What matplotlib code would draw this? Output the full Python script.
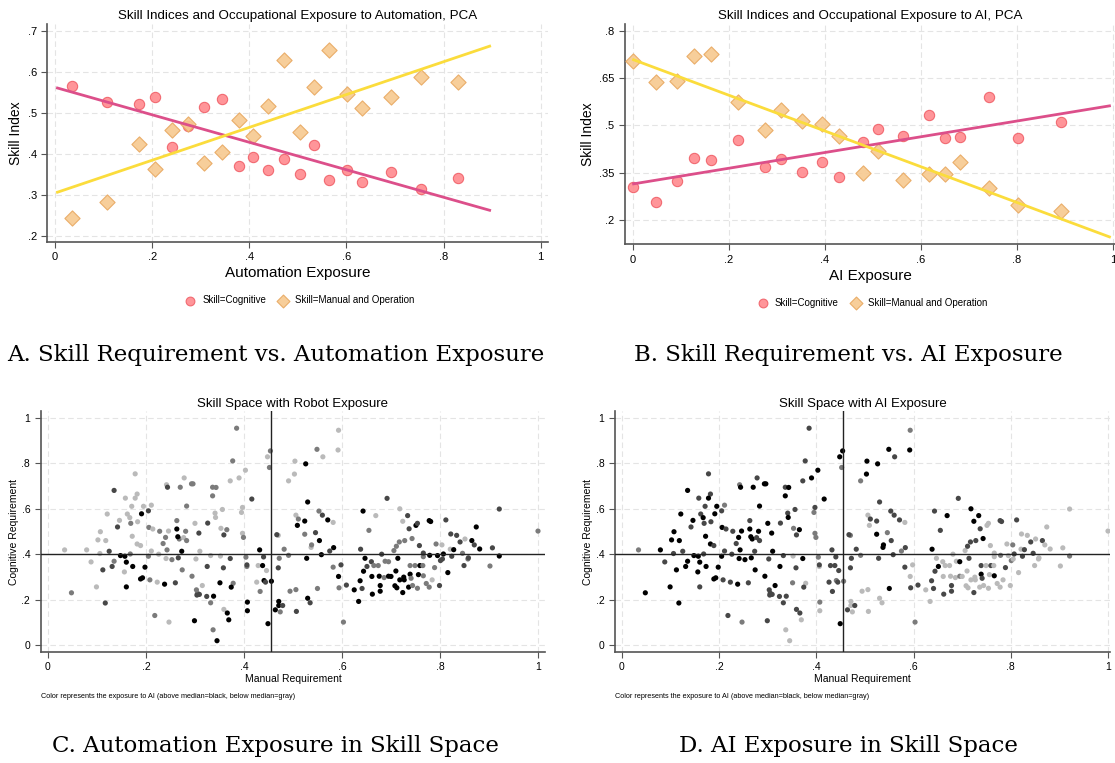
import numpy as np
import matplotlib
matplotlib.use('Agg')
import matplotlib.pyplot as plt

# ---- panel A: skill index vs automation exposure ----
auto_x = [0.035, 0.108, 0.173, 0.206, 0.241, 0.273, 0.307, 0.343, 0.379, 0.407,
          0.438, 0.471, 0.505, 0.534, 0.565, 0.602, 0.633, 0.691, 0.753, 0.829]
auto_cog = [0.565, 0.526, 0.520, 0.537, 0.416, 0.467, 0.514, 0.534, 0.369, 0.391,
            0.361, 0.388, 0.351, 0.422, 0.335, 0.360, 0.330, 0.355, 0.314, 0.340]
auto_man = [0.242, 0.281, 0.424, 0.362, 0.457, 0.473, 0.377, 0.405, 0.481, 0.442,
            0.516, 0.628, 0.454, 0.563, 0.653, 0.545, 0.512, 0.539, 0.586, 0.574]
auto_fit_x = [0.005, 0.895]
auto_fit_cog = [0.560, 0.262]
auto_fit_man = [0.306, 0.662]

# ---- panel B: skill index vs AI exposure ----
ai_x = [0.0, 0.048, 0.093, 0.127, 0.164, 0.220, 0.275, 0.308, 0.352, 0.395,
        0.430, 0.480, 0.512, 0.563, 0.618, 0.650, 0.681, 0.743, 0.803, 0.892]
ai_cog = [0.304, 0.258, 0.324, 0.396, 0.391, 0.455, 0.367, 0.393, 0.354, 0.385,
          0.336, 0.447, 0.488, 0.468, 0.532, 0.459, 0.464, 0.590, 0.459, 0.510]
ai_man = [0.703, 0.637, 0.640, 0.719, 0.727, 0.574, 0.485, 0.548, 0.513, 0.506,
          0.467, 0.349, 0.418, 0.326, 0.346, 0.347, 0.383, 0.301, 0.249, 0.230]
ai_fit_x = [0.002, 0.993]
ai_fit_cog = [0.315, 0.562]
ai_fit_man = [0.708, 0.147]

# ---- panels C/D: occupations in skill space ----
manual_req = [
    0.385, 0.593, 0.592, 0.454, 0.549, 0.448, 0.561, 0.377, 0.452, 0.504,
    0.526, 0.403, 0.178, 0.503, 0.278, 0.390, 0.372, 0.491, 0.293, 0.296,
    0.242, 0.244, 0.270, 0.336, 0.343, 0.135, 0.182, 0.336, 0.416, 0.158,
    0.178, 0.283, 0.211, 0.195, 0.171, 0.356, 0.397, 0.121, 0.191, 0.162,
    0.205, 0.341, 0.395, 0.167, 0.342, 0.146, 0.183, 0.263, 0.169, 0.300,
    0.326, 0.142, 0.206, 0.214, 0.353, 0.365, 0.228, 0.246, 0.281, 0.107,
    0.263, 0.308, 0.359, 0.172, 0.240, 0.397, 0.399, 0.102, 0.118, 0.235,
    0.182, 0.189, 0.268, 0.277, 0.283, 0.265, 0.034, 0.079, 0.273, 0.211,
    0.243, 0.106, 0.125, 0.148, 0.157, 0.168, 0.160, 0.135, 0.205, 0.226,
    0.241, 0.253, 0.266, 0.310, 0.332, 0.352, 0.372, 0.404, 0.432, 0.440,
    0.302, 0.088, 0.112, 0.131, 0.156, 0.173, 0.198, 0.325, 0.358, 0.406,
    0.406, 0.429, 0.438, 0.446, 0.470, 0.467, 0.470, 0.274, 0.294, 0.189,
    0.193, 0.208, 0.223, 0.238, 0.260, 0.351, 0.378, 0.426, 0.441, 0.444,
    0.456, 0.099, 0.048, 0.160, 0.315, 0.303, 0.305, 0.309, 0.304, 0.374,
    0.433, 0.324, 0.338, 0.117, 0.332, 0.407, 0.218, 0.247, 0.359, 0.366,
    0.369, 0.407, 0.299, 0.337, 0.345, 0.449, 0.464, 0.471, 0.471, 0.479,
    0.474, 0.472, 0.482, 0.491, 0.494, 0.506, 0.507, 0.506, 0.511, 0.509,
    0.524, 0.530, 0.528, 0.524, 0.530, 0.535, 0.537, 0.538, 0.546, 0.550,
    0.553, 0.554, 0.558, 0.560, 0.571, 0.575, 0.582, 0.583, 0.582, 0.593,
    0.594, 0.598, 0.603, 0.609, 0.625, 0.634, 0.637, 0.638, 0.641, 0.643,
    0.644, 0.647, 0.651, 0.655, 0.660, 0.661, 0.662, 0.665, 0.669, 0.674,
    0.676, 0.678, 0.678, 0.681, 0.686, 0.688, 0.692, 0.695, 0.695, 0.700,
    0.706, 0.708, 0.710, 0.711, 0.712, 0.714, 0.717, 0.718, 0.718, 0.724,
    0.724, 0.726, 0.727, 0.728, 0.734, 0.736, 0.737, 0.739, 0.739, 0.741,
    0.743, 0.744, 0.749, 0.751, 0.754, 0.754, 0.756, 0.758, 0.759, 0.765,
    0.766, 0.766, 0.766, 0.772, 0.778, 0.778, 0.781, 0.779, 0.784, 0.789,
    0.792, 0.795, 0.799, 0.801, 0.804, 0.805, 0.807, 0.812, 0.816, 0.821,
    0.822, 0.824, 0.828, 0.834, 0.841, 0.846, 0.849, 0.851, 0.857, 0.858,
    0.865, 0.870, 0.874, 0.881, 0.902, 0.907, 0.921, 0.921, 1.000]
cognitive_req = [
    0.955, 0.946, 0.859, 0.855, 0.862, 0.829, 0.829, 0.811, 0.782, 0.810,
    0.798, 0.770, 0.754, 0.753, 0.736, 0.736, 0.723, 0.723, 0.710, 0.710,
    0.706, 0.695, 0.695, 0.695, 0.694, 0.681, 0.665, 0.657, 0.643, 0.647,
    0.647, 0.612, 0.616, 0.611, 0.611, 0.597, 0.606, 0.577, 0.578, 0.577,
    0.591, 0.581, 0.584, 0.561, 0.562, 0.549, 0.543, 0.548, 0.536, 0.536,
    0.537, 0.520, 0.518, 0.511, 0.514, 0.508, 0.501, 0.502, 0.501, 0.499,
    0.511, 0.493, 0.485, 0.479, 0.474, 0.492, 0.474, 0.463, 0.460, 0.447,
    0.445, 0.438, 0.467, 0.473, 0.460, 0.477, 0.419, 0.419, 0.413, 0.414,
    0.419, 0.403, 0.413, 0.394, 0.391, 0.401, 0.365, 0.369, 0.391, 0.400,
    0.381, 0.376, 0.384, 0.413, 0.394, 0.392, 0.381, 0.387, 0.419, 0.388,
    0.379, 0.366, 0.331, 0.346, 0.322, 0.346, 0.343, 0.346, 0.340, 0.346,
    0.353, 0.350, 0.350, 0.328, 0.483, 0.486, 0.340, 0.331, 0.303, 0.291,
    0.296, 0.287, 0.277, 0.268, 0.274, 0.274, 0.272, 0.277, 0.284, 0.277,
    0.281, 0.256, 0.230, 0.256, 0.262, 0.243, 0.228, 0.223, 0.220, 0.255,
    0.236, 0.214, 0.215, 0.185, 0.186, 0.189, 0.130, 0.101, 0.157, 0.141,
    0.111, 0.151, 0.107, 0.067, 0.019, 0.094, 0.155, 0.192, 0.174, 0.174,
    0.146, 0.382, 0.422, 0.395, 0.237, 0.244, 0.148, 0.572, 0.555, 0.527,
    0.546, 0.630, 0.382, 0.488, 0.206, 0.186, 0.430, 0.441, 0.495, 0.249,
    0.590, 0.460, 0.398, 0.572, 0.551, 0.414, 0.540, 0.429, 0.343, 0.302,
    0.252, 0.353, 0.101, 0.264, 0.243, 0.192, 0.283, 0.422, 0.249, 0.590,
    0.325, 0.382, 0.346, 0.505, 0.367, 0.302, 0.224, 0.350, 0.570, 0.350,
    0.303, 0.262, 0.237, 0.400, 0.297, 0.369, 0.646, 0.367, 0.303, 0.302,
    0.416, 0.261, 0.326, 0.435, 0.252, 0.382, 0.454, 0.600, 0.287, 0.545,
    0.231, 0.299, 0.287, 0.460, 0.570, 0.255, 0.512, 0.350, 0.312, 0.294,
    0.469, 0.262, 0.350, 0.527, 0.536, 0.250, 0.310, 0.438, 0.350, 0.350,
    0.305, 0.389, 0.405, 0.271, 0.255, 0.548, 0.544, 0.395, 0.287, 0.341,
    0.445, 0.394, 0.262, 0.372, 0.441, 0.379, 0.401, 0.551, 0.319, 0.422,
    0.489, 0.391, 0.420, 0.483, 0.454, 0.404, 0.350, 0.467, 0.379, 0.384,
    0.460, 0.441, 0.520, 0.423, 0.348, 0.428, 0.599, 0.392, 0.502]
# exposure quartile per occupation: K top ... L bottom (robot panel C, AI panel D)
robot_group = list(
    "MLLMMLLMML" "KLLLLLLLMM" "LDMMMDLMDL" "LMLLLLLLKL" "DLLLLLLMML"
    "DDMLLMMLML" "KDDLMLMLLM" "LLMLMKLLKL" "MLDKKMKMML" "LMDLLLDMKD"
    "LLDDLKKDDM" "DLKLLDDMMK" "KMLKDKMLKD" "KLMKLMMDDK" "MDKDMKMLLK"
    "KKKMKKKKKD" "MMMMMMDLMK" "KKKMKDLMDM" "MKKDKDLKMK" "MDMDKKKDDK"
    "KKDMDKKMLM" "KKKDMMDMKK" "MKKMKKMLKL" "KKKMDKDMKM" "MMMKDMKDKM"
    "MMDMMKKKLM" "MKDDLDKDKL" "DDKDDMDLMD" "KDKKMDDKM")
ai_group = list(
    "DMKKKKDDMK" "KKDKDKDMKK" "MKKDKKDKKD" "KKMKDDDKKD" "DDMKKKDDDK"
    "DDKDMKDKKK" "KKDKKMMKKD" "KDKDDKMKDD" "KDDKKDKKKD" "KKKKDLKMDD"
    "DDKKKKKKDL" "DDDDMDDKKK" "KDDKDMLDMD" "MKKDKDDDDD" "DDDKDMDMDD"
    "LLDLLKDLLD" "LDDMLLLLDL" "DDDKLLKKMK" "DDDDDMLDDL" "DLMDLLDKDD"
    "DLKDLLDLKL" "LDDLLLDKML" "LLLDLDDKLK" "DLLDKLDDKD" "KLLLLLLLDL"
    "KLLLLDDMLD" "LLLMMLDDLL" "LDDLDDLLLL" "DLLLLLLML")

shade = {'K': '#000000', 'D': '#474747', 'M': '#7b7b7b', 'L': '#bababa'}

fam = ['Liberation Sans Narrow', 'Liberation Sans', 'DejaVu Sans']
grid_kw = dict(color='#e4e4e4', linestyle=(0, (5, 3)), linewidth=0.8)


def style_axes(ax, xticks, xlabels, yticks, ylabels, fs):
    for s in ['top', 'right']:
        ax.spines[s].set_visible(False)
    for s in ['left', 'bottom']:
        ax.spines[s].set_color('#555555')
        ax.spines[s].set_linewidth(1.2)
    ax.set_xticks(xticks)
    ax.set_xticklabels(xlabels, family=fam, fontsize=fs)
    ax.set_yticks(yticks)
    ax.set_yticklabels(ylabels, family=fam, fontsize=fs)
    ax.tick_params(direction='out', length=4, width=0.8, color='#555555')
    ax.grid(True, **grid_kw)
    ax.set_axisbelow(True)


fig = plt.figure(figsize=(11.15, 7.63), dpi=100)

xt = [0, 0.2, 0.4, 0.6, 0.8, 1]
xtl = ['0', '.2', '.4', '.6', '.8', '1']
red_fc, red_ec = '#ff8a8e', '#f06068'
org_fc, org_ec = '#f7c98f', '#e8a860'
pink, yellow = '#dc4f8a', '#fbdc3c'

panels = [
    ([0.0424, 0.683, 0.449, 0.285], auto_x, auto_cog, auto_man, auto_fit_x, auto_fit_cog, auto_fit_man,
     'Skill Indices and Occupational Exposure to Automation, PCA', 'Automation Exposure',
     (0.185, 0.715), [0.2, 0.3, 0.4, 0.5, 0.6, 0.7], ['.2', '.3', '.4', '.5', '.6', '.7'], (-0.016, 1.015)),
    ([0.5605, 0.680, 0.4397, 0.288], ai_x, ai_cog, ai_man, ai_fit_x, ai_fit_cog, ai_fit_man,
     'Skill Indices and Occupational Exposure to AI, PCA', 'AI Exposure',
     (0.124, 0.82), [0.2, 0.35, 0.5, 0.65, 0.8], ['.2', '.35', '.5', '.65', '.8'], (-0.016, 1.005)),
]
for rect, x, cog, man, fx, fc, fm, title, xlab, ylim, yt, ytl, xlim in panels:
    ax = fig.add_axes(rect)
    ax.scatter(x, cog, s=55, marker='o', facecolor=red_fc, edgecolor=red_ec, linewidth=0.8,
               alpha=0.9, zorder=3, label='Skill=Cognitive')
    ax.scatter(x, man, s=60, marker='D', facecolor=org_fc, edgecolor=org_ec, linewidth=0.8,
               alpha=0.9, zorder=3, label='Skill=Manual and Operation')
    ax.plot(fx, fc, color=pink, linewidth=2, zorder=4)
    ax.plot(fx, fm, color=yellow, linewidth=2, zorder=4)
    ax.set_xlim(*xlim)
    ax.set_ylim(*ylim)
    style_axes(ax, xt, xtl, yt, ytl, 8)
    ax.set_title(title, family=fam, fontsize=9.6, pad=4)
    ax.set_xlabel(xlab, family=fam, fontsize=11, labelpad=3)
    ax.set_ylabel('Skill Index', family=fam, fontsize=10, labelpad=3)
    ax.legend(loc='upper center', bbox_to_anchor=(0.5, -0.205), ncol=2, frameon=False,
              prop={'family': fam, 'size': 7}, handletextpad=0.2, columnspacing=0.8,
              markerscale=0.85)

scatter_panels = [
    ([0.0364, 0.1457, 0.4527, 0.3154], robot_group, 'Skill Space with Robot Exposure', (-0.015, 1.015)),
    ([0.5513, 0.1457, 0.4446, 0.3154], ai_group, 'Skill Space with AI Exposure', (-0.015, 1.005)),
]
for rect, grp, title, xlim in scatter_panels:
    ax = fig.add_axes(rect)
    cols = [shade[g] for g in grp]
    ax.scatter(manual_req, cognitive_req, s=14, c=cols, linewidths=0, zorder=3)
    ax.axvline(0.455, color='#222222', linewidth=1, zorder=4)
    ax.axhline(0.4, color='#222222', linewidth=1, zorder=4)
    ax.set_xlim(*xlim)
    ax.set_ylim(-0.03, 1.03)
    style_axes(ax, xt, xtl, xt, xtl, 7.5)
    ax.set_title(title, family=fam, fontsize=9.5, pad=3)
    ax.set_xlabel('Manual Requirement', family=fam, fontsize=7.5, labelpad=1)
    ax.set_ylabel('Cognitive Requirement', family=fam, fontsize=7.5, labelpad=2)
    ax.text(0.0, -0.17, 'Color represents the exposure to AI (above median=black, below median=gray)',
            transform=ax.transAxes, family=fam, fontsize=5.2, va='top')

captions = [
    (0.247, 0.535, 'A. Skill Requirement vs. Automation Exposure'),
    (0.761, 0.535, 'B. Skill Requirement vs. AI Exposure'),
    (0.247, 0.022, 'C. Automation Exposure in Skill Space'),
    (0.761, 0.022, 'D. AI Exposure in Skill Space'),
]
for cx, cy, txt in captions:
    fig.text(cx, cy, txt, ha='center', va='center', family=['DejaVu Serif'], fontsize=16.5)

fig.savefig('out.png', dpi=100)
